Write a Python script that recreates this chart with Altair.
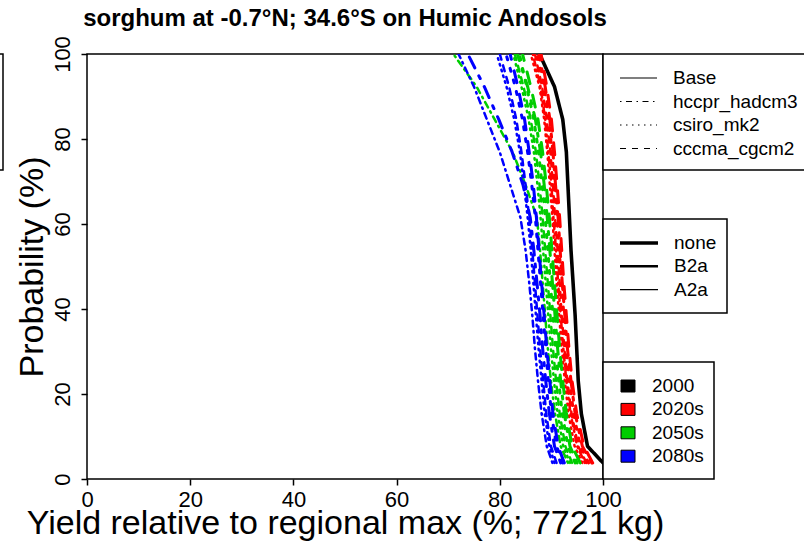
import altair as alt
import pandas as pd

FONT = "Liberation Sans"

# Probability of exceedance (%) at which each yield curve is sampled
PROB = [3.8, 7.7, 15.4, 23.1, 30.8, 38.5, 46.2, 53.8, 61.5, 69.2, 76.9, 84.6, 92.3, 100.0]

# Yield relative to regional max (%), one list per curve
BASE_2000 = [100.0, 97.0, 95.8, 95.2, 94.9, 94.6, 94.2, 93.8, 93.5, 93.2, 92.9, 92.2, 90.6, 87.7]

Y2020_HCCPR_B2A = [97.8, 96.0, 94.6, 93.8, 93.1, 92.6, 92.1, 91.7, 91.3, 90.8, 90.3, 89.7, 88.8, 87.6]
Y2020_HCCPR_A2A = [96.5, 95.0, 93.7, 92.9, 92.3, 91.8, 91.3, 90.9, 90.4, 90.0, 89.4, 88.8, 87.9, 86.4]
Y2020_CSIRO_B2A = [97.2, 95.6, 94.3, 93.5, 92.9, 92.4, 92.0, 91.5, 91.1, 90.6, 90.1, 89.5, 88.6, 87.2]
Y2020_CSIRO_A2A = [96.0, 94.5, 93.3, 92.6, 92.0, 91.5, 91.0, 90.6, 90.2, 89.7, 89.2, 88.6, 87.7, 86.0]
Y2020_CCCMA_B2A = [98.0, 96.3, 94.9, 94.0, 93.4, 92.9, 92.4, 92.0, 91.6, 91.1, 90.6, 90.0, 89.1, 88.0]
Y2020_CCCMA_A2A = [96.8, 95.2, 93.9, 93.1, 92.5, 92.0, 91.6, 91.2, 90.7, 90.3, 89.8, 89.1, 88.2, 86.8]

Y2050_HCCPR_B2A = [95.0, 93.6, 92.5, 91.8, 91.2, 90.7, 90.2, 89.7, 89.2, 88.6, 87.9, 86.9, 85.4, 83.4]
Y2050_HCCPR_A2A = [93.2, 91.8, 90.7, 89.9, 89.3, 88.8, 88.3, 87.8, 87.2, 85.0, 82.5, 79.0, 75.5, 71.0]
Y2050_CSIRO_B2A = [94.6, 93.2, 92.1, 91.4, 90.8, 90.3, 89.8, 89.3, 88.8, 88.2, 87.5, 86.6, 85.2, 83.8]
Y2050_CSIRO_A2A = [93.6, 92.3, 91.2, 90.5, 89.9, 89.4, 88.9, 88.4, 87.9, 87.3, 86.6, 85.6, 84.2, 82.6]
Y2050_CCCMA_B2A = [95.6, 94.0, 92.9, 92.2, 91.6, 91.1, 90.6, 90.1, 89.6, 89.0, 88.3, 87.4, 86.0, 84.4]
Y2050_CCCMA_A2A = [94.0, 92.7, 91.6, 90.9, 90.3, 89.8, 89.3, 88.8, 88.3, 87.7, 87.0, 86.0, 84.6, 82.9]

Y2080_HCCPR_B2A = [91.8, 90.6, 89.6, 88.9, 88.3, 87.8, 87.2, 86.6, 85.9, 84.5, 82.4, 79.8, 77.0, 73.8]
Y2080_HCCPR_A2A = [90.2, 89.1, 88.1, 87.4, 86.8, 86.3, 85.7, 85.0, 84.0, 82.0, 80.0, 77.5, 75.0, 72.0]
Y2080_CSIRO_B2A = [92.2, 91.0, 90.0, 89.4, 88.9, 88.4, 87.9, 87.4, 86.9, 86.2, 85.4, 84.4, 83.0, 81.2]
Y2080_CSIRO_A2A = [90.6, 89.6, 88.7, 88.1, 87.5, 87.0, 86.5, 86.0, 85.4, 84.7, 83.9, 82.8, 81.3, 79.4]
Y2080_CCCMA_B2A = [92.5, 91.3, 90.3, 89.7, 89.1, 88.6, 88.1, 87.6, 87.1, 86.5, 85.7, 84.8, 83.5, 82.0]
Y2080_CCCMA_A2A = [91.0, 89.9, 89.0, 88.4, 87.8, 87.3, 86.8, 86.3, 85.7, 85.0, 84.2, 83.2, 81.8, 80.0]

PERIODS = ["2000", "2020s", "2050s", "2080s"]
PERIOD_COLORS = ["#000000", "#FF0000", "#00CD00", "#0000FF"]
GCMS = ["Base", "hccpr_hadcm3", "csiro_mk2", "cccma_cgcm2"]
SCENARIOS = ["none", "B2a", "A2a"]

CURVES = [
    ("2000", "Base", "none", BASE_2000),
    ("2020s", "hccpr_hadcm3", "B2a", Y2020_HCCPR_B2A),
    ("2020s", "hccpr_hadcm3", "A2a", Y2020_HCCPR_A2A),
    ("2020s", "csiro_mk2", "B2a", Y2020_CSIRO_B2A),
    ("2020s", "csiro_mk2", "A2a", Y2020_CSIRO_A2A),
    ("2020s", "cccma_cgcm2", "B2a", Y2020_CCCMA_B2A),
    ("2020s", "cccma_cgcm2", "A2a", Y2020_CCCMA_A2A),
    ("2050s", "hccpr_hadcm3", "B2a", Y2050_HCCPR_B2A),
    ("2050s", "hccpr_hadcm3", "A2a", Y2050_HCCPR_A2A),
    ("2050s", "csiro_mk2", "B2a", Y2050_CSIRO_B2A),
    ("2050s", "csiro_mk2", "A2a", Y2050_CSIRO_A2A),
    ("2050s", "cccma_cgcm2", "B2a", Y2050_CCCMA_B2A),
    ("2050s", "cccma_cgcm2", "A2a", Y2050_CCCMA_A2A),
    ("2080s", "hccpr_hadcm3", "B2a", Y2080_HCCPR_B2A),
    ("2080s", "hccpr_hadcm3", "A2a", Y2080_HCCPR_A2A),
    ("2080s", "csiro_mk2", "B2a", Y2080_CSIRO_B2A),
    ("2080s", "csiro_mk2", "A2a", Y2080_CSIRO_A2A),
    ("2080s", "cccma_cgcm2", "B2a", Y2080_CCCMA_B2A),
    ("2080s", "cccma_cgcm2", "A2a", Y2080_CCCMA_A2A),
]

rows = []
for period, gcm, scen, values in CURVES:
    for p, v in zip(PROB, values):
        rows.append({"period": period, "gcm": gcm, "scen": scen,
                     "style": f"{gcm}|{scen}", "series": f"{period}|{gcm}|{scen}",
                     "yield": v, "prob": p})
df = pd.DataFrame(rows)

# line type per GCM, dash lengths scaled with the line width (R-like lty)
STYLE_DOMAIN = ["Base|none", "hccpr_hadcm3|B2a", "hccpr_hadcm3|A2a",
                "csiro_mk2|B2a", "csiro_mk2|A2a", "cccma_cgcm2|B2a", "cccma_cgcm2|A2a"]
STYLE_DASH = [[1, 0], [3, 9, 12, 9], [1.5, 4.5, 6, 4.5], [3, 9], [1.5, 4.5], [12, 12], [6, 6]]
LEGEND_DASH = {"Base": [1, 0], "hccpr_hadcm3": [1.5, 4.5, 6, 4.5],
               "csiro_mk2": [1.5, 4.5], "cccma_cgcm2": [6, 6]}
WIDTHS = [3.6, 2.5, 1.1]

W, H = 516, 425

x_enc = alt.X("yield:Q",
              scale=alt.Scale(domain=[0, 100], nice=False, zero=False),
              axis=alt.Axis(values=[0, 20, 40, 60, 80, 100], grid=False, domain=False,
                            tickSize=6, tickWidth=1.5, tickColor="black",
                            labelFont=FONT, labelFontSize=22, labelColor="black",
                            labelPadding=4, labelAngle=0, labelFlush=False,
                            title="Yield relative to regional max (%; 7721 kg)",
                            titleFont=FONT, titleFontSize=34, titleFontWeight="normal",
                            titleColor="black", titleBaseline="alphabetic",
                            titleY=54, titleX=W / 2, titleAnchor="middle"))
y_enc = alt.Y("prob:Q",
              scale=alt.Scale(domain=[0, 100], nice=False, zero=False),
              axis=alt.Axis(values=[0, 20, 40, 60, 80, 100], grid=False, domain=False,
                            tickSize=6, tickWidth=1.5, tickColor="black",
                            labelFont=FONT, labelFontSize=22, labelColor="black",
                            labelAngle=270, labelAlign="center", labelBaseline="bottom",
                            labelPadding=7, labelFlush=False,
                            title="Probability (%)",
                            titleFont=FONT, titleFontSize=34, titleFontWeight="normal",
                            titleColor="black", titleAngle=270, titleBaseline="alphabetic",
                            titleX=-45, titleY=H / 2, titleAnchor="middle"))

layers = []
for period, color in zip(PERIODS, PERIOD_COLORS):
    layers.append(
        alt.Chart(df[df["period"] == period]).mark_line(
            color=color, strokeCap="round", strokeJoin="round", clip=True
        ).encode(
            x=x_enc, y=y_enc,
            strokeDash=alt.StrokeDash("style:N", scale=alt.Scale(domain=STYLE_DOMAIN, range=STYLE_DASH), legend=None),
            strokeWidth=alt.StrokeWidth("scen:N", scale=alt.Scale(domain=SCENARIOS, range=WIDTHS), legend=None),
            detail="series:N",
            order="prob:Q",
        )
    )

one = pd.DataFrame({"k": [0]})


def box(x0, x1, y0, y1):
    return alt.Chart(one).mark_rect(fill="white", stroke="black", strokeWidth=1.5).encode(
        x=alt.value(x0), x2=alt.value(x1), y=alt.value(y0), y2=alt.value(y1))


def label(xp, yp, txt, size=19, weight="normal", align="left", baseline="middle"):
    return alt.Chart(one).mark_text(font=FONT, fontSize=size, fontWeight=weight, color="black",
                                    align=align, baseline=baseline).encode(
        x=alt.value(xp), y=alt.value(yp), text=alt.value(txt))


def sample(x0, x1, yp, width, dash, color="black"):
    return alt.Chart(one).mark_rule(color=color, strokeWidth=width, strokeDash=dash).encode(
        x=alt.value(x0), x2=alt.value(x1), y=alt.value(yp))


deco = []
# title
deco.append(label(W / 2, -28, "sorghum at -0.7°N; 34.6°S on Humic Andosols",
                  size=24, weight="bold", align="center", baseline="alphabetic"))
# partial box at far left
deco.append(box(-150, -84, 0, 116))

# line-type legend (GCM)
deco.append(box(516, 760, 0, 116))
for i, g in enumerate(GCMS):
    yy = 24 + i * 23.5
    deco.append(sample(533, 570, yy, 1.1, LEGEND_DASH[g]))
    deco.append(label(586, yy, g))

# line-width legend (scenario)
deco.append(box(516, 640, 165, 259))
for i, (s, w) in enumerate(zip(SCENARIOS, WIDTHS)):
    yy = 189 + i * 23.3
    deco.append(sample(533, 571, yy, w, [1, 0]))
    deco.append(label(587, yy, s))

# colour legend (period)
deco.append(box(516, 627, 308, 425))
for i, (p, c) in enumerate(zip(PERIODS, PERIOD_COLORS)):
    yy = 332 + i * 23.4
    deco.append(alt.Chart(one).mark_rect(fill=c, stroke="black", strokeWidth=1).encode(
        x=alt.value(534), x2=alt.value(548), y=alt.value(yy - 6), y2=alt.value(yy + 6)))
    deco.append(label(565, yy, p))

chart = alt.layer(*layers, *deco).properties(
    width=W, height=H,
    autosize=alt.AutoSizeParams(type="none"),
    padding={"left": 87, "top": 54, "right": 804 - 87 - W, "bottom": 543 - 54 - H},
    background="white",
).configure_view(stroke="black", strokeWidth=1.5)

chart.save("out.html", embed_options={"renderer": "svg", "actions": False})
